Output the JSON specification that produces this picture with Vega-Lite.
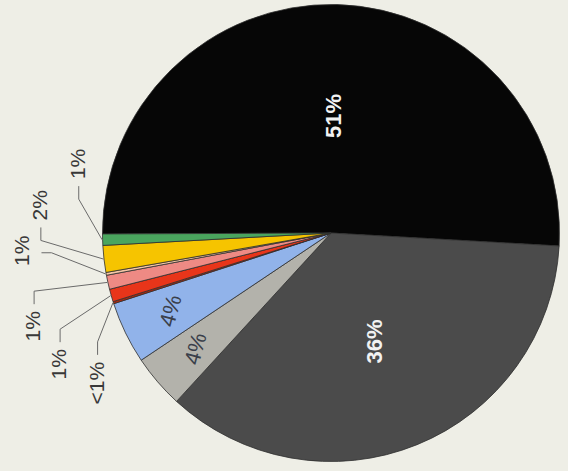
{
  "$schema": "https://vega.github.io/schema/vega-lite/v6.json",
  "width": 474,
  "height": 466,
  "autosize": {"type": "none"},
  "padding": {"left": 94, "top": 0, "right": 0, "bottom": 5},
  "background": "#eeeee6",
  "config": {"view": {"stroke": null}, "font": "Liberation Sans"},
  "data": {
    "values": [
      {"cat": "A", "order": 1, "value": 51.1, "label": "51%"},
      {"cat": "B", "order": 2, "value": 36.0, "label": "36%"},
      {"cat": "C", "order": 3, "value": 3.8, "label": "4%"},
      {"cat": "D", "order": 4, "value": 4.4, "label": "4%"},
      {"cat": "E", "order": 5, "value": 0.15, "label": "<1%"},
      {"cat": "F", "order": 6, "value": 0.9, "label": "1%"},
      {"cat": "G", "order": 7, "value": 1.0, "label": "1%"},
      {"cat": "H", "order": 8, "value": 0.2, "label": "1%"},
      {"cat": "I", "order": 9, "value": 1.9, "label": "2%"},
      {"cat": "J", "order": 10, "value": 0.8, "label": "1%"}
    ]
  },
  "layer": [
    {
      "mark": {"type": "arc", "radius": 228.5, "stroke": "#2e2e2e", "strokeWidth": 0.8},
      "encoding": {
        "theta": {"field": "value", "type": "quantitative", "stack": true, "scale": {"range": [4.70802, 10.99121]}},
        "order": {"field": "order", "type": "quantitative"},
        "color": {
          "field": "cat", "type": "nominal", "legend": null,
          "scale": {
            "domain": ["A", "B", "C", "D", "E", "F", "G", "H", "I", "J"],
            "range": ["#060606", "#4b4b4b", "#b3b2ab", "#91b3ea", "#b02a10", "#e8351a", "#ee8a84", "#f6c7a6", "#f6c400", "#4aa55e"]
          }
        }
      }
    },
    {
      "mark": {"type": "text", "radius": 117, "angle": 270, "fontSize": 22, "fontWeight": "bold", "color": "#f2f2f2", "align": "center", "baseline": "middle"},
      "encoding": {
        "theta": {"field": "value", "type": "quantitative", "stack": true, "scale": {"range": [4.70802, 10.99121]}},
        "order": {"field": "order", "type": "quantitative"},
        "detail": {"field": "cat", "type": "nominal"},
        "text": {"condition": {"test": "datum.order <= 2", "field": "label"}, "value": ""}
      }
    },
    {
      "mark": {"type": "text", "radius": 178, "angle": 285, "fontSize": 22, "color": "#3a3f4a", "align": "center", "baseline": "middle"},
      "encoding": {
        "theta": {"field": "value", "type": "quantitative", "stack": true, "scale": {"range": [4.70802, 10.99121]}},
        "order": {"field": "order", "type": "quantitative"},
        "detail": {"field": "cat", "type": "nominal"},
        "text": {"condition": {"test": "datum.order == 3 || datum.order == 4", "field": "label"}, "value": ""}
      }
    },
    {
      "transform": [
        {"joinaggregate": [{"op": "sum", "field": "value", "as": "total"}]},
        {"window": [{"op": "sum", "field": "value", "as": "cum"}], "sort": [{"field": "order"}], "frame": [null, 0]},
        {"calculate": "4.70802 + 2*PI*(datum.cum - datum.value/2)/datum.total", "as": "mid"},
        {"filter": "datum.order >= 5"},
        {"calculate": "datum.order - 7.5", "as": "t"},
        {"calculate": "datum.mid + (1 + 5*datum.t + (datum.t > 0 ? 3.5 : -3.5))*PI/180", "as": "la"},
        {"calculate": "311.3 - 3.2*datum.t - 6.68*pow(datum.t, 2)", "as": "lr"},
        {"calculate": "datum.lr*sin(datum.la)", "as": "lx"},
        {"calculate": "-datum.lr*cos(datum.la)", "as": "ly"},
        {"calculate": "6.1*length(datum.label) + 3", "as": "hl"},
        {"calculate": "229*sin(datum.mid)", "as": "rx"},
        {"calculate": "-229*cos(datum.mid)", "as": "ry"},
        {"calculate": "(datum.ly < -10 || datum.ly > 50) ? datum.lx : datum.lx + 18", "as": "ex"},
        {"calculate": "datum.ly < -10 ? datum.ly + datum.hl + 7 : (datum.ly > 50 ? datum.ly - datum.hl - 7 : datum.ly + 2)", "as": "ey"},
        {"calculate": "(datum.ly < -10 || datum.ly > 50) ? datum.ex : datum.ex + 10", "as": "bx"},
        {"calculate": "datum.ly < -10 ? datum.ey + 13 : (datum.ly > 50 ? datum.ey - 13 : datum.ey)", "as": "by"},
        {"calculate": "[datum.rx, datum.bx, datum.ex]", "as": "px"},
        {"calculate": "[datum.ry, datum.by, datum.ey]", "as": "py"},
        {"calculate": "[0, 1, 2]", "as": "pi"}
      ],
      "layer": [
        {
          "transform": [{"flatten": ["px", "py", "pi"]}],
          "mark": {"type": "line", "stroke": "#6a6a6a", "strokeWidth": 1},
          "encoding": {
            "x": {"field": "px", "type": "quantitative", "scale": {"domain": [-237, 237], "nice": false, "zero": false}, "axis": null},
            "y": {"field": "py", "type": "quantitative", "scale": {"domain": [-233, 233], "reverse": true, "nice": false, "zero": false}, "axis": null},
            "detail": {"field": "cat", "type": "nominal"},
            "order": {"field": "pi", "type": "quantitative"}
          }
        },
        {
          "mark": {"type": "text", "angle": 270, "fontSize": 21, "color": "#383838", "align": "center", "baseline": "middle"},
          "encoding": {
            "x": {"field": "lx", "type": "quantitative", "scale": {"domain": [-237, 237], "nice": false, "zero": false}, "axis": null},
            "y": {"field": "ly", "type": "quantitative", "scale": {"domain": [-233, 233], "reverse": true, "nice": false, "zero": false}, "axis": null},
            "text": {"field": "label"}
          }
        }
      ]
    }
  ]
}
